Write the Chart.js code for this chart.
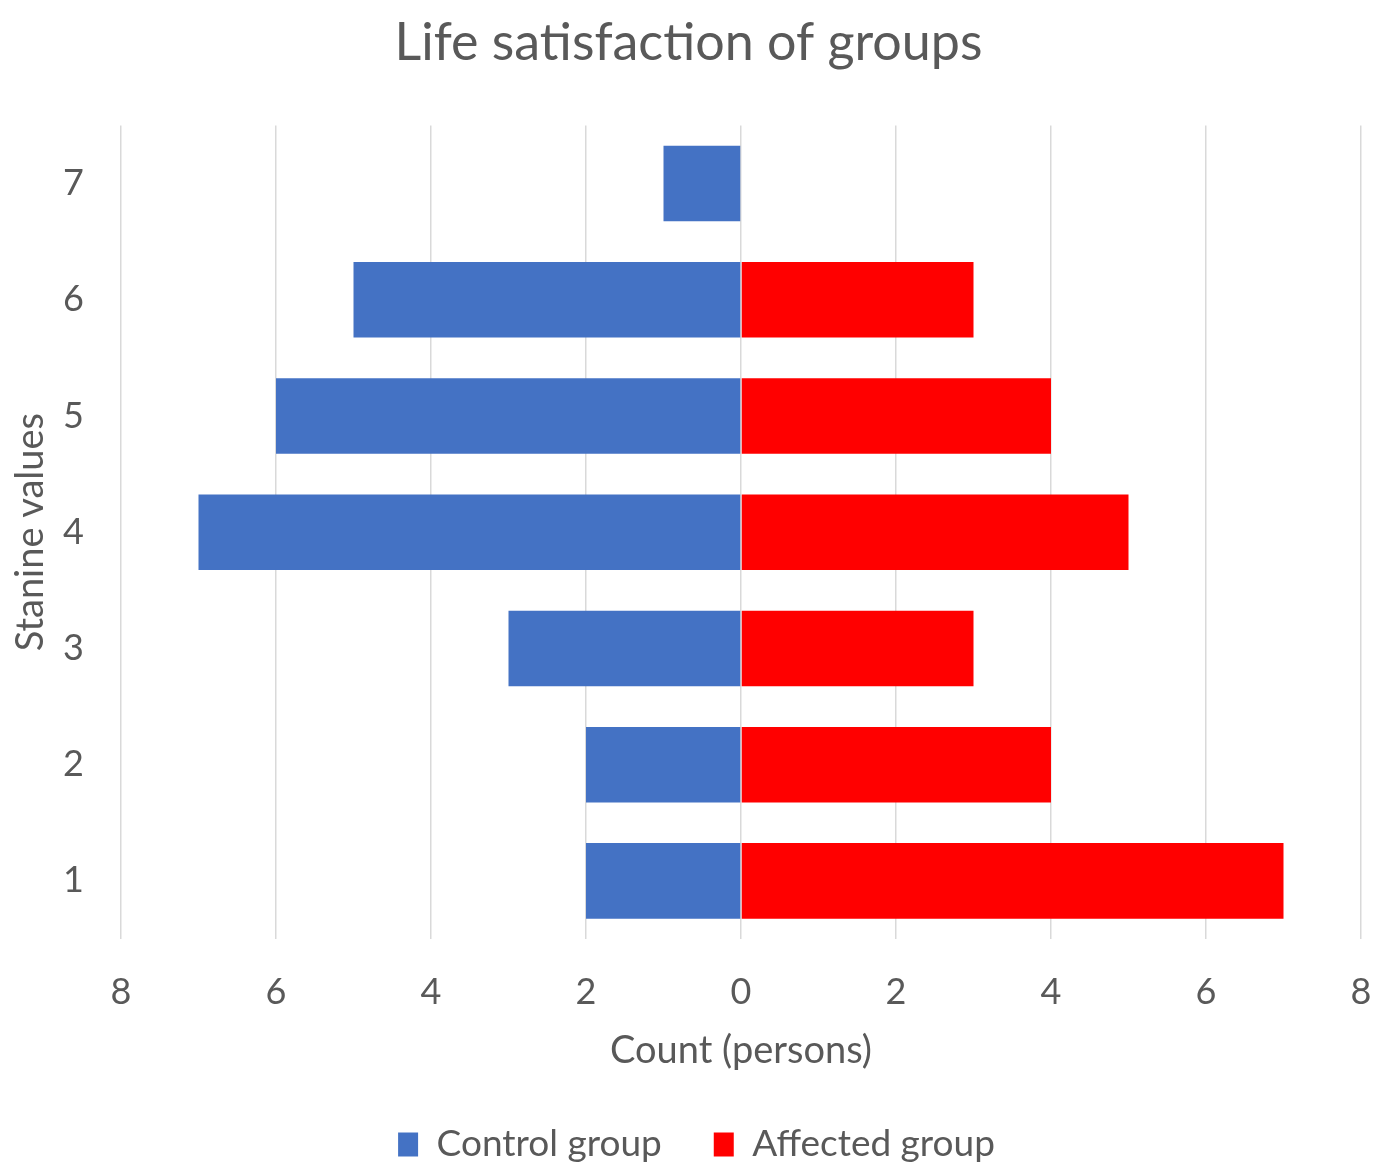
<!DOCTYPE html>
<html>
<head>
<meta charset="utf-8">
<script src="https://cdn.jsdelivr.net/npm/chart.js@4/dist/chart.umd.min.js"></script>
<style>
  html, body { margin: 0; padding: 0; background: #fff; }
  #wrap { width: 1377px; height: 1163px; }
</style>
</head>
<body>
<div id="wrap"><canvas id="chart" width="1377" height="1163"></canvas></div>
<script>
// Stanine values, top row first
const stanineLabels = ['7', '6', '5', '4', '3', '2', '1'];
// Counts (persons)
const controlCounts = [1, 5, 6, 7, 3, 2, 2];
const affectedCounts = [0, 3, 4, 5, 3, 4, 7];
const countTicks = [-8, -6, -4, -2, 0, 2, 4, 6, 8];

const textGrey = '#595959';
const fontName = 'Lato, "Open Sans", sans-serif';

// control group goes to the left, so its counts are drawn as negative
const data = {
    labels: stanineLabels,
    datasets: [
        {
            label: 'Control group',
            data: controlCounts.map(v => -v),
            backgroundColor: '#4472C4',
            barPercentage: 0.65,
            categoryPercentage: 1.0
        },
        {
            label: 'Affected group',
            data: affectedCounts,
            backgroundColor: '#FF0000',
            barPercentage: 0.65,
            categoryPercentage: 1.0
        }
    ]
};

// title and legend sit on the page centre, not the chart box centre
const nudgeBoxes = {
    id: 'nudgeBoxes',
    afterLayout(chart) {
        chart.titleBlock.left += 8;
        chart.titleBlock.right += 8;
        chart.legend.left += 16;
        chart.legend.right += 16;
    }
};

const ctx = document.getElementById('chart').getContext('2d');
new Chart(ctx, {
    type: 'bar',
    data: data,
    plugins: [nudgeBoxes],
    options: {
        indexAxis: 'y',
        responsive: false,
        animation: false,
        layout: {
            padding: { left: 0, right: 16, top: 0, bottom: -10 }
        },
        plugins: {
            title: {
                display: true,
                text: 'Life satisfaction of groups',
                color: textGrey,
                font: { family: fontName, size: 52, weight: 'normal' },
                padding: { top: 12, bottom: 51 }
            },
            legend: {
                position: 'bottom',
                labels: {
                    color: textGrey,
                    font: { family: fontName, size: 37 },
                    boxWidth: 20,
                    boxHeight: 24,
                    padding: 52
                }
            },
            tooltip: { enabled: false }
        },
        scales: {
            x: {
                stacked: true,
                min: -8,
                max: 8,
                afterBuildTicks: (axis) => {
                    axis.ticks = countTicks.map(v => ({ value: v }));
                },
                afterFit: (axis) => {
                    axis.height = 135;
                    // no extra room for the end labels, the plot runs to the edge
                    axis.paddingLeft = 0;
                    axis.paddingRight = 0;
                },
                grid: {
                    color: '#d9d9d9',
                    lineWidth: 1.5,
                    drawTicks: false
                },
                border: { display: false },
                ticks: {
                    color: textGrey,
                    font: { family: fontName, size: 36 },
                    padding: 32,
                    callback: (v) => Math.abs(v)
                },
                title: {
                    display: true,
                    text: 'Count (persons)',
                    color: textGrey,
                    font: { family: fontName, size: 38 },
                    padding: { top: 0, bottom: 0 }
                }
            },
            y: {
                stacked: true,
                afterFit: (axis) => { axis.width = 121; },
                grid: { display: false },
                border: { display: false },
                ticks: {
                    color: textGrey,
                    font: { family: fontName, size: 36 },
                    padding: 29
                },
                title: {
                    display: true,
                    text: 'Stanine values',
                    color: textGrey,
                    font: { family: fontName, size: 38 },
                    padding: { top: 8, bottom: 0 }
                }
            }
        }
    }
});
</script>
</body>
</html>
